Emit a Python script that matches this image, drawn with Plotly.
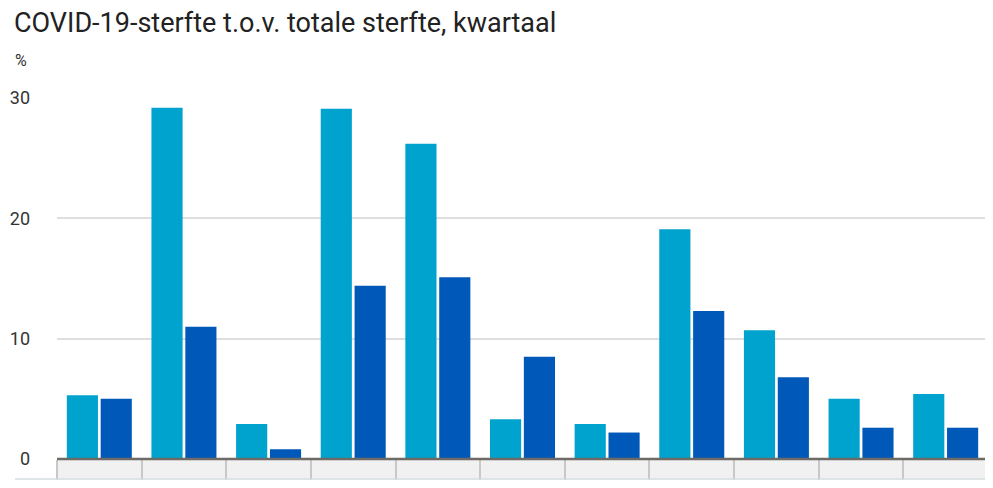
import plotly.graph_objects as go

categories = ["2020 K1", "2020 K2", "2020 K3", "2020 K4", "2021 K1", "2021 K2",
              "2021 K3", "2021 K4", "2022 K1", "2022 K2", "2022 K3"]
series_a_name = "Wlz-gebruikers"
series_a = [5.3, 29.2, 2.9, 29.1, 26.2, 3.3, 2.9, 19.1, 10.7, 5.0, 5.4]
series_b_name = "Overige bevolking"
series_b = [5.0, 11.0, 0.8, 14.4, 15.1, 8.5, 2.2, 12.3, 6.8, 2.6, 2.6]
y_ticks = [0, 10, 20, 30]
title_text = "COVID-19-sterfte t.o.v. totale sterfte, kwartaal"

# page has an 8px body margin; figure coordinates are page coordinates minus 8
W, H = 985, 480
L, R, T, B = 49, 5, 90, 29
plot_h = H - T - B
plot_w = W - L - R

fig = go.Figure()
fig.add_trace(go.Bar(x=categories, y=series_a, name=series_a_name,
                     marker=dict(color="#00A2CE", line=dict(width=0))))
fig.add_trace(go.Bar(x=categories, y=series_b, name=series_b_name,
                     marker=dict(color="#0059B9", line=dict(width=0))))

band = 20 / plot_h
fig.add_shape(type="rect", xref="paper", yref="paper", x0=0, x1=1, y0=-band, y1=0,
              fillcolor="#F1F1F1", line=dict(width=0), layer="below")
fig.add_shape(type="line", xref="paper", yref="paper", x0=(7 - L) / plot_w, x1=1.002,
              y0=-band, y1=-band, line=dict(color="#D6DCE0", width=1.5))
fig.add_shape(type="line", xref="paper", yref="paper", x0=0, x1=1.002, y0=0, y1=0,
              line=dict(color="#6E6A66", width=2.5), layer="above")

fig.update_layout(
    width=W, height=H,
    margin=dict(l=L, r=R, t=T, b=B, autoexpand=False),
    plot_bgcolor="white", paper_bgcolor="white",
    showlegend=False,
    barmode="group", bargap=0.2, bargroupgap=0.08,
    font=dict(family="Roboto", color="#333333"),
    xaxis=dict(showticklabels=False, ticks="outside", tickson="boundaries",
               ticklen=20, tickcolor="#C8C8C8", tickwidth=1.5, automargin=False,
               showgrid=False, showline=False, zeroline=False, fixedrange=True),
    yaxis=dict(range=[0, 30], tickvals=y_ticks, ticktext=[str(v) for v in y_ticks],
               showgrid=True, gridcolor="#DEDEDE", gridwidth=1.5, automargin=False,
               zeroline=False, showline=False, ticks="",
               ticklabelstandoff=26,
               tickfont=dict(size=18, color="#333333", family="Roboto")),
)
fig.add_annotation(text=title_text, xref="paper", yref="paper",
                   x=(4 - L) / plot_w, y=1 + (T - 15) / plot_h,
                   xanchor="left", yanchor="middle", showarrow=False,
                   font=dict(size=27, color="#222222", family="Roboto"))
fig.add_annotation(text="%", xref="paper", yref="paper",
                   x=(5 - L) / plot_w, y=1 + (T - 52) / plot_h,
                   xanchor="left", yanchor="middle", showarrow=False,
                   font=dict(size=16, color="#333333", family="Roboto"))

fig.write_html("out.html")
